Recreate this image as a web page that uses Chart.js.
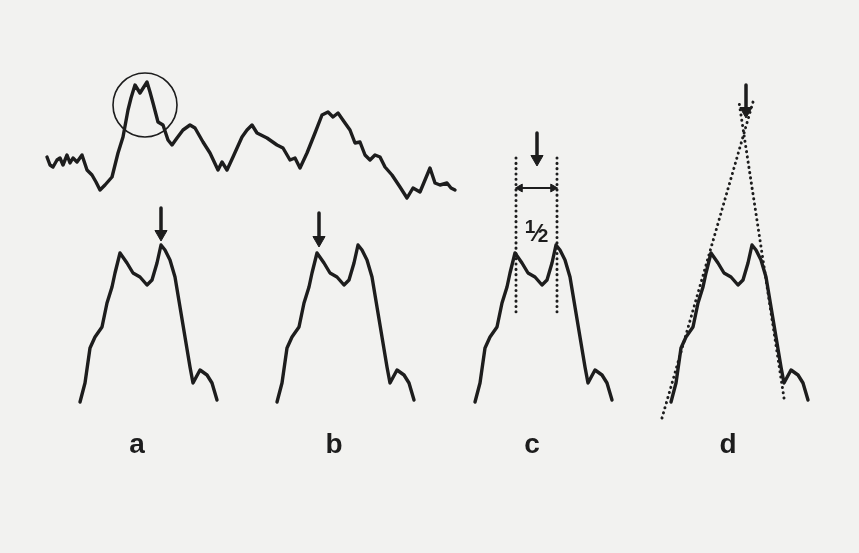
<!DOCTYPE html>
<html>
<head>
<meta charset="utf-8">
<script src="https://cdn.jsdelivr.net/npm/chart.js@4"></script>
<style>
  html, body { margin: 0; padding: 0; background: #f2f2f0; }
  canvas { display: block; }
</style>
</head>
<body>
<canvas id="fig" width="859" height="553"></canvas>
<script>
// values (figure units, y grows downward)
var topTrace = [
  [47,157],[50,165],[53,167],[57,160],[60,158],[63,165],[67,155],[70,163],[73,158],[77,162],
  [82,155],[87,170],[92,175],[96,182],[100,190],[105,185],[112,177],[118,153],[123,137],
  [128,110],[131,98],[135,85],[140,93],[147,82],[150,92],[153,103],[158,122],[163,125],
  [168,140],[172,145],[177,138],[183,130],[190,125],[195,128],[203,142],[210,153],[218,170],
  [222,162],[227,170],[233,157],[242,137],[247,130],[252,125],[257,133],[267,138],[277,145],
  [283,148],[290,160],[295,158],[300,168],[307,153],[315,133],[322,115],[328,112],[333,117],
  [338,113],[345,123],[350,130],[355,143],[360,142],[365,155],[370,160],[375,155],[380,157],
  [385,167],[392,175],[400,187],[407,198],[413,188],[420,192],[430,168],[435,183],[440,185],
  [447,183],[451,188],[455,190]
];

var peakShape = [
  [80,402],[85,383],[90,348],[95,337],[102,327],[107,303],[112,287],[115,273],[120,253],
  [127,263],[133,273],[140,277],[147,285],[152,280],[157,263],[161,245],[165,250],[170,260],
  [175,277],[180,307],[185,337],[190,367],[193,383],[200,370],[207,375],[212,383],[217,400]
];

var panelLabels = ['a', 'b', 'c', 'd'];
var panelShift = [0, 197, 395, 591];

// arrows: [x, yTail, yTip]
var downArrows = [[161,208,241],[319,213,247],[537,133,166],[746,85,118]];

// panel c: half-width bracket
var halfLeft = [[516,158],[516,312]];
var halfRight = [[557,158],[557,312]];
var halfSpan = [[519,188],[554,188]];

// panel d: tangent lines
var tangentLeft = [[662,418],[753,102]];
var tangentRight = [[784,398],[739,102]];

var ink = '#1d1d1d';

function pts(list, dx) {
  return list.map(function (p) { return { x: p[0] + (dx || 0), y: p[1] }; });
}

var datasets = [];

datasets.push({ data: pts(topTrace), borderColor: ink, borderWidth: 3.4 });

panelShift.forEach(function (s) {
  datasets.push({ data: pts(peakShape, s), borderColor: ink, borderWidth: 3.4 });
});

// circle round the selected peak
datasets.push({
  data: [{ x: 145, y: 105 }], showLine: false, pointStyle: 'circle', pointRadius: 32,
  pointBorderWidth: 1.6, pointBorderColor: ink, pointBackgroundColor: 'rgba(0,0,0,0)'
});

downArrows.forEach(function (a) {
  datasets.push({ data: [{ x: a[0], y: a[1] }, { x: a[0], y: a[2] - 8 }], borderColor: ink, borderWidth: 3.5 });
  datasets.push({
    data: [{ x: a[0], y: a[2] - 7 }], showLine: false, pointStyle: 'triangle', pointRadius: 7,
    pointRotation: 180, pointBackgroundColor: ink, pointBorderColor: ink, pointBorderWidth: 1
  });
});

[halfLeft, halfRight, tangentLeft, tangentRight].forEach(function (l) {
  datasets.push({ data: pts(l), borderColor: ink, borderWidth: 3, borderDash: [0.1, 5.2], borderCapStyle: 'round' });
});

datasets.push({ data: pts(halfSpan), borderColor: ink, borderWidth: 1.8 });
datasets.push({
  data: [{ x: halfSpan[0][0] + 1, y: 188 }, { x: halfSpan[1][0] - 1, y: 188 }], showLine: false,
  pointStyle: 'triangle', pointRadius: 4.5, pointRotation: [270, 90],
  pointBackgroundColor: ink, pointBorderColor: ink, pointBorderWidth: 1
});

var paper = {
  id: 'paper',
  beforeDraw: function (chart) {
    var c = chart.ctx;
    c.save();
    c.fillStyle = '#f2f2f0';
    c.fillRect(0, 0, chart.width, chart.height);
    c.restore();
  }
};

var captions = {
  id: 'captions',
  afterDatasetsDraw: function (chart) {
    var c = chart.ctx, sx = chart.scales.x, sy = chart.scales.y;
    c.save();
    c.fillStyle = ink;
    c.textAlign = 'center';
    c.textBaseline = 'alphabetic';
    c.font = 'bold 28px "Liberation Sans", Arial, sans-serif';
    panelLabels.forEach(function (t, i) {
      c.fillText(t, sx.getPixelForValue(137 + panelShift[i]), sy.getPixelForValue(453));
    });
    // the "1/2" mark, set as a built-up fraction
    c.font = 'bold 19px "Liberation Sans", Arial, sans-serif';
    c.fillText('1', sx.getPixelForValue(530), sy.getPixelForValue(233));
    c.fillText('2', sx.getPixelForValue(543), sy.getPixelForValue(242));
    c.font = 'bold 24px "Liberation Sans", Arial, sans-serif';
    c.fillText('\u2044', sx.getPixelForValue(537), sy.getPixelForValue(241));
    c.restore();
  }
};

new Chart(document.getElementById('fig'), {
  type: 'scatter',
  data: { datasets: datasets },
  options: {
    responsive: false,
    animation: false,
    layout: { padding: 0, autoPadding: false },
    elements: {
      line: { tension: 0, fill: false, borderJoinStyle: 'round', borderCapStyle: 'round' },
      point: { radius: 0, hoverRadius: 0 }
    },
    datasets: { scatter: { showLine: true } },
    plugins: { legend: { display: false }, tooltip: { enabled: false } },
    scales: {
      x: { type: 'linear', min: 0, max: 859, display: false },
      y: { type: 'linear', min: 0, max: 553, reverse: true, display: false }
    }
  },
  plugins: [paper, captions]
});
</script>
</body>
</html>
